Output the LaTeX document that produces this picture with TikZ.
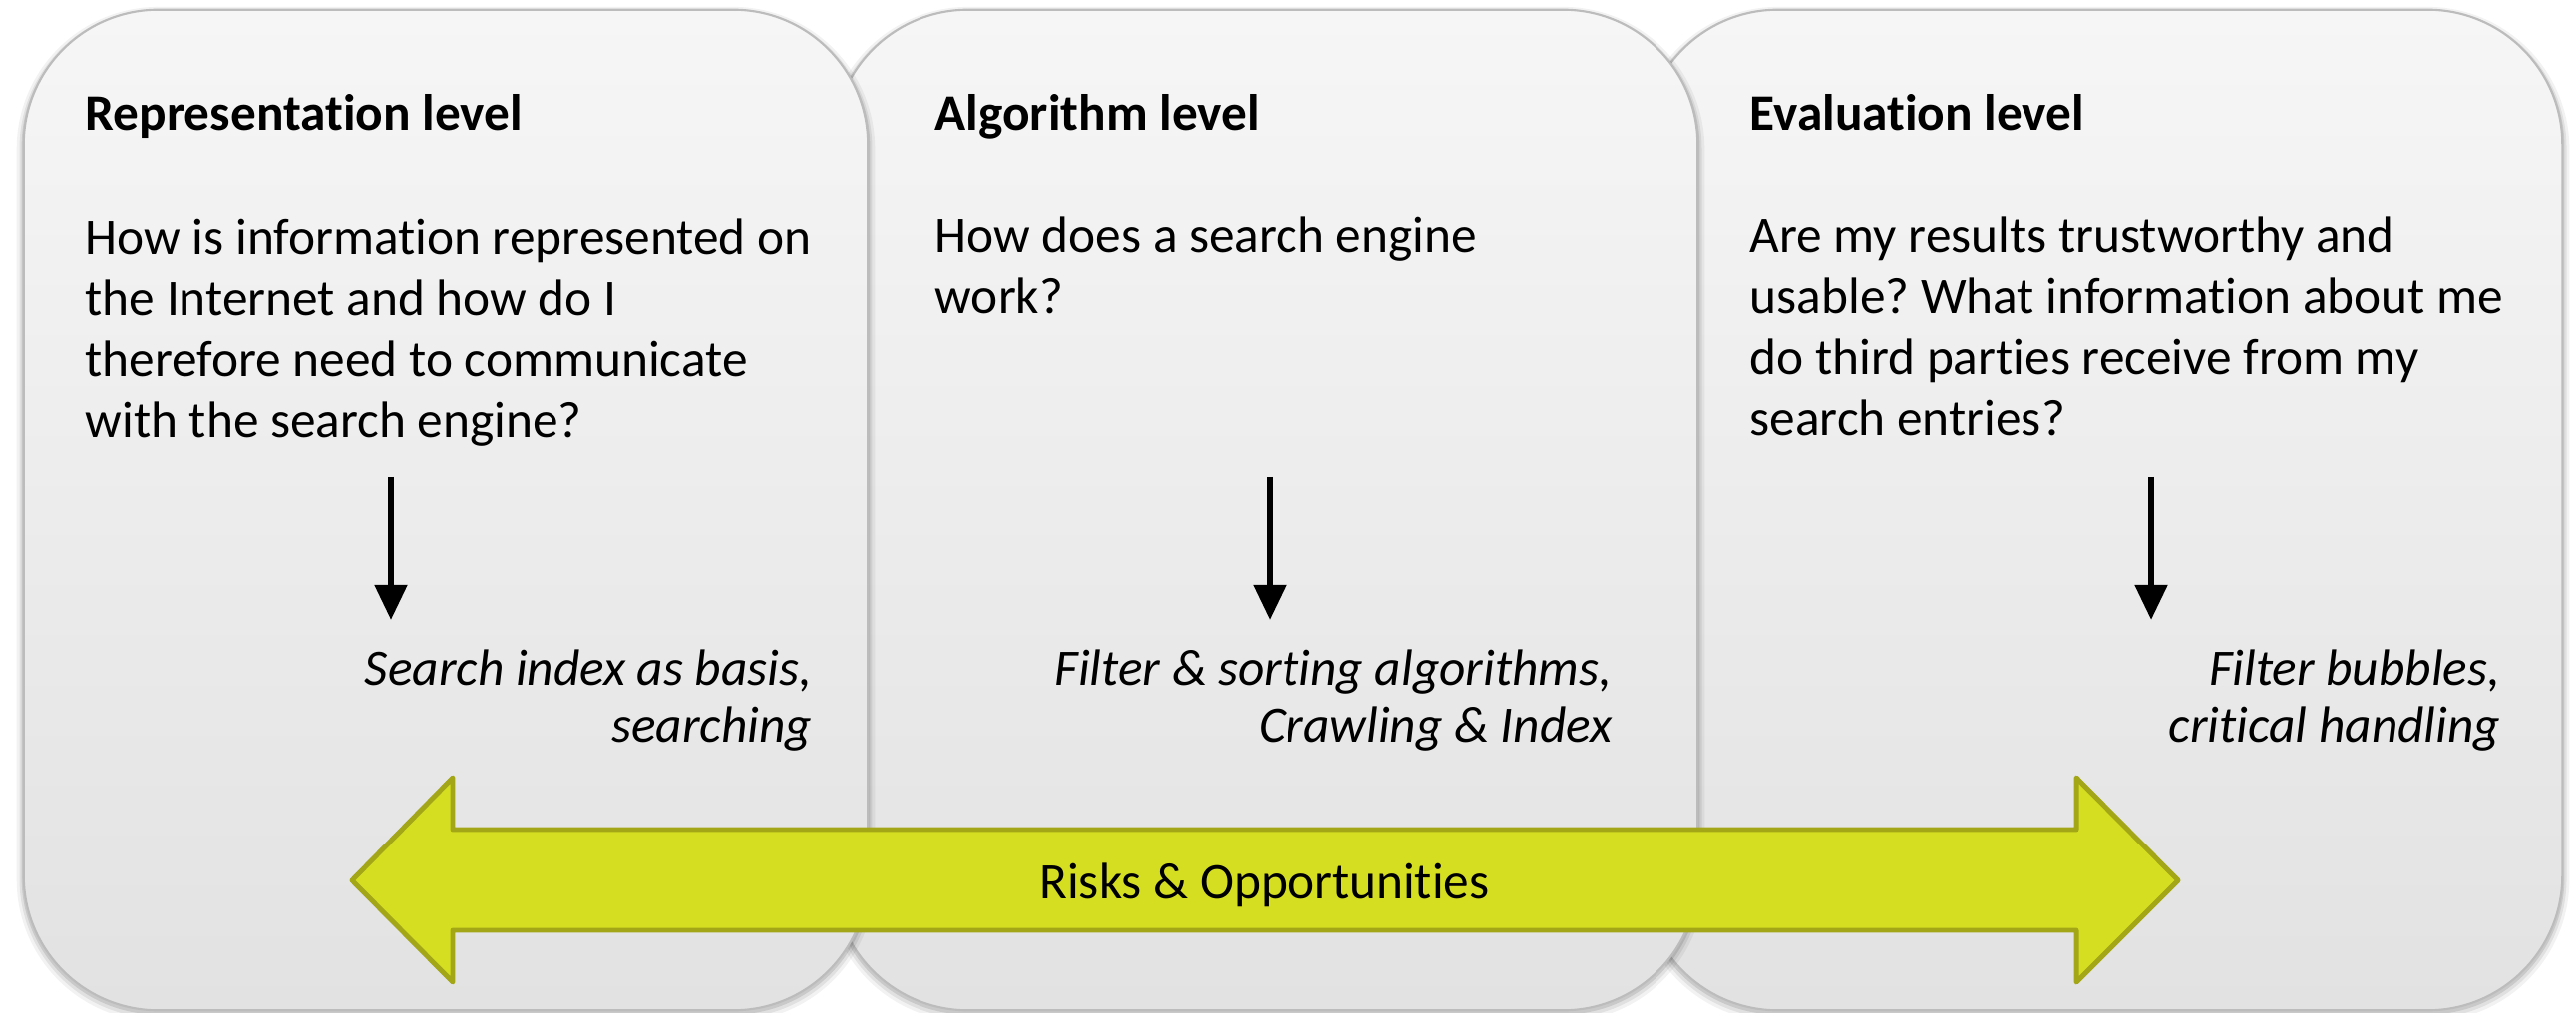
\documentclass[tikz,border=0pt]{standalone}
\usepackage{fontspec}
\setmainfont{Carlito}[Ligatures={NoCommon,NoRequired,NoContextual}]
\usetikzlibrary{arrows.meta}
\frenchspacing

\definecolor{boxtop}{HTML}{F6F6F6}
\definecolor{boxbot}{HTML}{E2E2E2}
\definecolor{boxline}{HTML}{BCBCBC}
\definecolor{bandfill}{HTML}{D6DE22}
\definecolor{bandline}{HTML}{A2A617}

\begin{document}
\begin{tikzpicture}[x=0.01cm, y=-0.01cm,
  levelbox/.style={rectangle, rounded corners=1.35cm, draw=boxline,
    line width=0.6pt, top color=boxtop, bottom color=boxbot, inner sep=0pt,
    minimum height=10.03cm,
    preaction={draw=black, draw opacity=0.05, line width=4pt,
      transform canvas={yshift=-1.2pt}},
    preaction={draw=black, draw opacity=0.07, line width=2.4pt,
      transform canvas={yshift=-1pt}},
    preaction={draw=black, draw opacity=0.10, line width=1.2pt,
      transform canvas={yshift=-0.6pt}}},
  headline/.style={anchor=base west, inner sep=0pt,
    font=\bfseries\fontsize{14.6}{17}\selectfont},
  bodyline/.style={anchor=base west, inner sep=0pt,
    font=\fontsize{14.6}{17}\selectfont},
  noteline/.style={anchor=base east, inner sep=0pt,
    font=\itshape\fontsize{14.6}{17}\selectfont},
  downarrow/.style={line width=1.8pt, -{Triangle[width=9pt,length=10pt]}},
  band/.style={fill=bandfill, draw=bandline, line width=1.4pt, line join=round},
  bandlabel/.style={anchor=base, inner sep=0pt, font=\fontsize{14.6}{17}\selectfont}
]
\fill[white] (0,0) rectangle (2583,1016);
\useasboundingbox (0,0) rectangle (2583,1016);

% the three level panels, right one lowest
\node[levelbox, minimum width=9.21cm] (eval) at (2108.5,511.5) {};
\node[levelbox, minimum width=8.66cm] (algo) at (1269,511.5) {};
\node[levelbox, minimum width=8.46cm] (repr) at (447,511.5) {};

% headings
\node[headline] (repr-h) at (85,131) {Representation level};
\node[headline] (algo-h) at (937,131) {Algorithm level};
\node[headline] (eval-h) at (1754,131) {Evaluation level};

% questions
\foreach \t [count=\i] in {How is information represented on,
    the Internet and how do I,
    therefore need to communicate,
    with the search engine?}
  \node[bodyline] (repr-q\i) at (85,{256+(\i-1)*60.7}) {\t};
\foreach \t [count=\i] in {How does a search engine, work?}
  \node[bodyline] (algo-q\i) at (937,{254+(\i-1)*60.7}) {\t};
\foreach \t [count=\i] in {Are my results trustworthy and,
    usable? What information about me,
    do third parties receive from my,
    search entries?}
  \node[bodyline] (eval-q\i) at (1754,{254+(\i-1)*60.7}) {\t};

% topics
\node[noteline] (repr-n1) at (815,687) {Search index as basis,};
\node[noteline] (repr-n2) at (815,744) {searching};
\node[noteline] (algo-n1) at (1617,687) {Filter \& sorting algorithms,};
\node[noteline] (algo-n2) at (1617,744) {Crawling \& Index};
\node[noteline] (eval-n1) at (2508,687) {Filter bubbles,};
\node[noteline] (eval-n2) at (2508,744) {critical handling};

% arrows from question to topic
\coordinate (repr-a) at (392,478);
\coordinate (repr-b) at (392,622);
\coordinate (algo-a) at (1273,478);
\coordinate (algo-b) at (1273,622);
\coordinate (eval-a) at (2157,478);
\coordinate (eval-b) at (2157,622);
\draw[downarrow] (repr-a) -- (repr-b);
\draw[downarrow] (algo-a) -- (algo-b);
\draw[downarrow] (eval-a) -- (eval-b);

% double-headed band across all levels
\draw[band] (353,883) -- (454,780) -- (454,832) -- (2082,832) -- (2082,780)
  -- (2184,883) -- (2082,985) -- (2082,933) -- (454,933) -- (454,985) -- cycle;
\node[bandlabel] (risks) at (1268,901) {Risks \& Opportunities};
\end{tikzpicture}
\end{document}
